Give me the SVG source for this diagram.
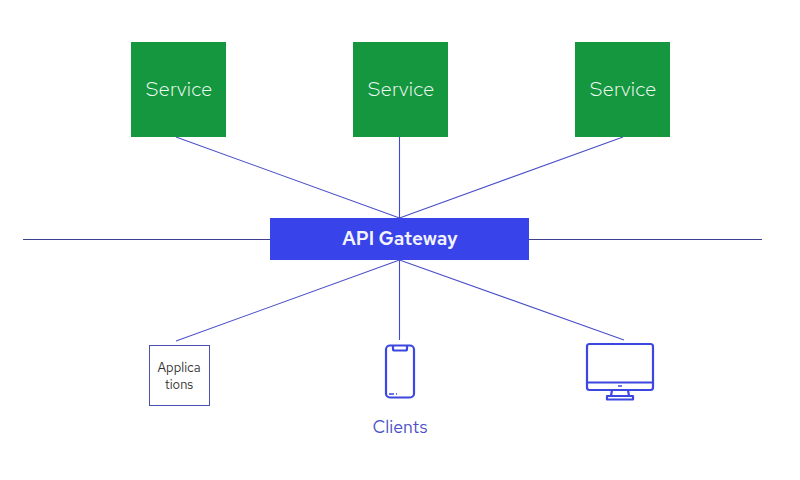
<svg xmlns="http://www.w3.org/2000/svg" width="800" height="480" viewBox="0 0 800 480">
<style>
text{font-family:"Red Hat Text","Lato","Noto Sans",sans-serif;text-anchor:middle}
.svc{fill:#14973f}
.svct{fill:#eef8f1;font-size:20.600px;font-weight:300}
.c{stroke:#4a50c8;stroke-width:1.100;fill:none}
.v{stroke:#4048d8;stroke-width:1.100;fill:none}
.h{stroke:#3d4190;stroke-width:1;fill:none}
.ic{stroke:#3c46e0;stroke-width:2.200;fill:none;stroke-linejoin:round}
</style>
<rect width="800" height="480" fill="#fff"/>
<g id="connectors">
<path class="c" d="M176 137L399.500 218M623 137L399.500 218"/>
<path class="v" d="M399.500 137V218M399.500 260V340"/>
<path class="h" d="M23 239.500H270M529 239.500H762"/>
<path class="c" d="M176 341L399.500 260M624 340L399.500 260"/>
</g>
<g id="service-1"><rect class="svc" x="131" y="42" width="95" height="95"/><text class="svct" x="179" y="96">Service</text></g>
<g id="service-2"><rect class="svc" x="353" y="42" width="95" height="95"/><text class="svct" x="401" y="96">Service</text></g>
<g id="service-3"><rect class="svc" x="575" y="42" width="95" height="95"/><text class="svct" x="623" y="96">Service</text></g>
<g id="gateway"><rect x="270" y="218" width="259" height="42" fill="#3844ea"/><text x="400" y="245" fill="#f2f3fe" font-size="19" font-weight="600">API Gateway</text></g>
<g id="applications"><rect x="149.500" y="345.500" width="60" height="60" fill="#fff" stroke="#4a50b0" stroke-width="1"/>
<text x="179" y="372" fill="#333" font-size="13">Applica</text><text x="179" y="389" fill="#333" font-size="13">tions</text></g>
<g id="phone"><rect class="ic" x="386" y="345.500" width="28" height="52" rx="4"/><path class="ic" d="M393 346V349Q393 350.500 394.500 350.500H405.500Q407 350.500 407 349V346"/><path d="M389 394H394M396 394H397" stroke="#3c46e0" stroke-width="1.500"/></g>
<g id="desktop"><rect class="ic" x="587" y="344" width="66" height="46" rx="2.500"/><path class="ic" d="M587 382.500H653M612 390L611 396H629L628 390"/><rect class="ic" x="607" y="396" width="26" height="3.500"/><path d="M618 386H622" stroke="#3c46e0" stroke-width="1.500"/></g>
<text id="clients" x="400" y="433" fill="#4a50c8" font-size="17.700">Clients</text>
</svg>
